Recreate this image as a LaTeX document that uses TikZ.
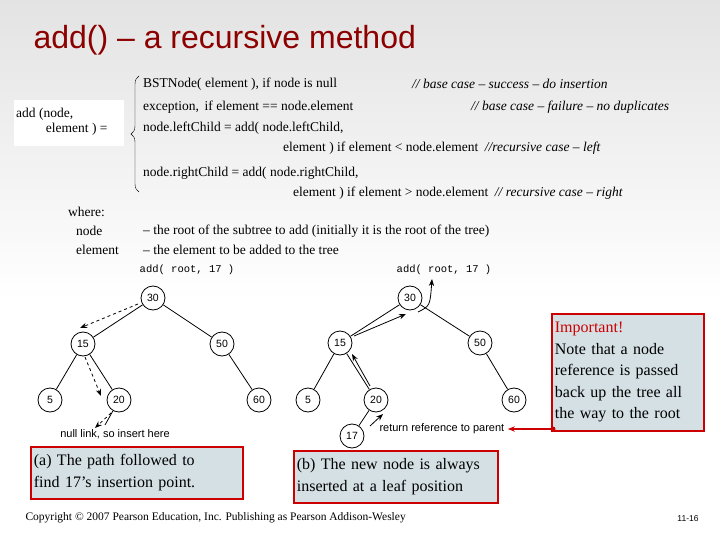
\documentclass[tikz,border=0pt]{standalone}
\usepackage{fontspec}
\setmainfont{Liberation Serif}
\setsansfont{Liberation Sans}
\setmonofont{Liberation Mono}
\usetikzlibrary{decorations.pathreplacing,arrows.meta}
\begin{document}
\begin{tikzpicture}[x=1pt,y=-1pt,
  tn/.style={circle,draw,thick,minimum size=24pt,inner sep=0pt,font=\sffamily\fontsize{10.5}{11}\selectfont},
  ed/.style={thick},
  dsh/.style={thick,dashed,-{Stealth[length=7pt]}},
  sol/.style={thick,-{Stealth[length=7pt]}},
  cbox/.style={draw=red!80!black,line width=1.8pt,fill=cyan!25!gray!30,align=left,anchor=north west,inner sep=3pt,font=\fontsize{16}{22}\selectfont},
  tx/.style={anchor=west,inner sep=0pt,font=\fontsize{13.5}{15}\selectfont}]
\useasboundingbox (0,0) rectangle (720,540);
\shade[top color=gray!22,bottom color=white] (0,0) rectangle (720,300);
\node[anchor=west,text=red!55!black,font=\sffamily\fontsize{32}{36}\selectfont] (title) at (30,40) {add() -- a recursive method};
% formula
\fill[white] (14,100) rectangle (124,146);
\node[tx,align=left] (lhs) at (16,122) {add (node,\\\hspace*{2.2em}element ) =};
\draw[decorate,decoration={brace,amplitude=8pt}] (139,192) -- (139,76);
\node[tx] (c1) at (143,84) {BSTNode( element ), if node is null};
\node[tx] (k1) at (412,84) {\itshape // base case -- success -- do insertion};
\node[tx] (c2) at (143,107) {exception,\, if element == node.element};
\node[tx] (k2) at (471,107) {\itshape // base case -- failure -- no duplicates};
\node[tx] (c3) at (143,128) {node.leftChild = add( node.leftChild,};
\node[tx] (c3b) at (283,148) {element ) if element < node.element \ \itshape //recursive case -- left};
\node[tx] (c4) at (143,173) {node.rightChild = add( node.rightChild,};
\node[tx] (c4b) at (293,193) {element ) if element > node.element \ \itshape // recursive case -- right};
\node[tx] (w) at (68,212) {where:};
\node[tx] (n1) at (76,231) {node};
\node[tx] (n1d) at (143,231) {-- the root of the subtree to add (initially it is the root of the tree)};
\node[tx] (n2) at (76,250) {element};
\node[tx] (n2d) at (143,250) {-- the element to be added to the tree};
% left tree
\node[font=\ttfamily\fontsize{10.5}{11}\selectfont] (la) at (187,270) {add( root, 17 )};
\node[tn] (a30) at (153,298) {30};
\node[tn] (a15) at (83,344) {15};
\node[tn] (a50) at (222,344) {50};
\node[tn] (a5) at (50,400) {5};
\node[tn] (a20) at (119,400) {20};
\node[tn] (a60) at (259,400) {60};
\draw[ed] (a30)--(a15) (a30)--(a50) (a15)--(a5) (a15)--(a20) (a50)--(a60);
\draw[ed] (a20) -- (105,425);
\coordinate (d1s) at (138,304); \coordinate (d1e) at (80,328);
\draw[dsh] (d1s) -- (d1e);
\coordinate (d2s) at (85,357); \coordinate (d2e) at (101,396);
\draw[dsh] (d2s) -- (d2e);
\coordinate (d3s) at (111,413); \coordinate (d3e) at (95,428);
\draw[dsh] (d3s) -- (d3e);
\node[font=\sffamily\fontsize{11}{12}\selectfont] (nl) at (115,434) {null link, so insert here};
% right tree
\node[font=\ttfamily\fontsize{10.5}{11}\selectfont] (ra) at (444,270) {add( root, 17 )};
\node[tn] (b30) at (410,298) {30};
\node[tn] (b15) at (340,343) {15};
\node[tn] (b50) at (480,343) {50};
\node[tn] (b5) at (308,400) {5};
\node[tn] (b20) at (376,400) {20};
\node[tn] (b60) at (514,400) {60};
\node[tn] (b17) at (352,436) {17};
\draw[ed] (b30)--(b15) (b30)--(b50) (b15)--(b5) (b15)--(b20) (b50)--(b60) (b20)--(b17);
\coordinate (r1s) at (370,426); \coordinate (r1e) at (383,414);
\draw[sol] (r1s) -- (r1e);
\coordinate (r2s) at (370,386); \coordinate (r2e) at (352,354);
\draw[sol] (r2s) -- (r2e);
\coordinate (r3s) at (354,336); \coordinate (r3e) at (406,314);
\draw[sol] (r3s) -- (r3e);
\coordinate (r4s) at (418,312); \coordinate (r4e) at (432,279);
\draw[sol] (r4s) .. controls (430,306) .. (r4e);
\node[anchor=west,font=\sffamily\fontsize{11}{12}\selectfont] (rr) at (376,429) {return reference to parent};
% boxes
\node[cbox,text width=206pt,minimum height=52pt] (ba) at (30,446) {(a) The path followed to\\find 17's insertion point.};
\node[cbox,text width=198pt,minimum height=52pt] (bb) at (293,450) {(b) The new node is always\\inserted at a leaf position};
\node[cbox,text width=146pt,minimum height=117pt,font=\fontsize{16}{21.5}\selectfont] (bi) at (551,313) {\textcolor{red!80!black}{Important!}\\Note that a node\\reference is passed\\back up the tree all\\the way to the root};
\coordinate (bic) at (553,429);
\fill[red!80!black] (bic) circle (2.5pt);
\draw[red!80!black,line width=2pt,-{Stealth[length=7pt]}] (bic) -- (rr.east);
% footer
\node[anchor=west,font=\fontsize{11.5}{12}\selectfont] (cp) at (22,518) {Copyright © 2007 Pearson Education, Inc. Publishing as Pearson Addison-Wesley};
\node[font=\sffamily\fontsize{8.5}{9}\selectfont] (pg) at (688,519) {11-16};
\end{tikzpicture}
\end{document}
